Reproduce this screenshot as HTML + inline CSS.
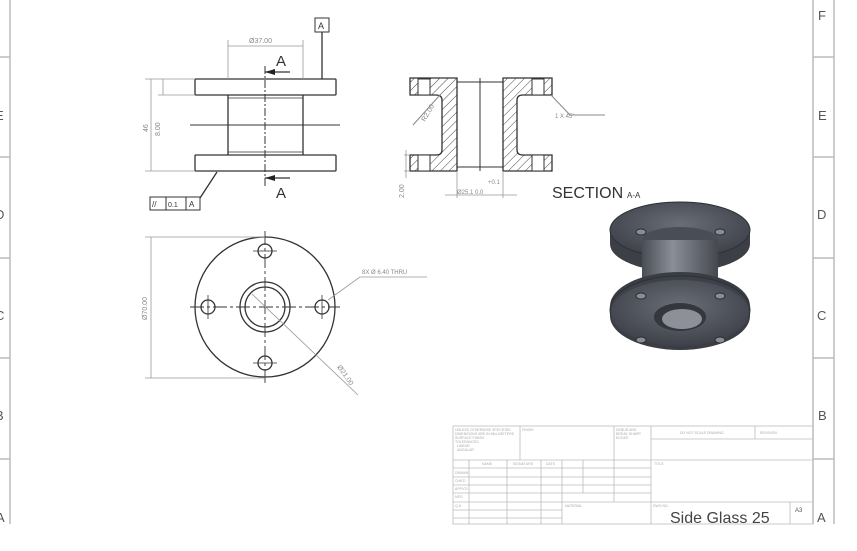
<!DOCTYPE html>
<html><head><meta charset="utf-8"><style>
html,body{margin:0;padding:0;background:#fff;}
svg{display:block;font-family:"Liberation Sans",sans-serif;}
</style></head><body>
<svg width="857" height="551" viewBox="0 0 857 551" xmlns="http://www.w3.org/2000/svg">
<defs>
<pattern id="h" width="6" height="6" patternUnits="userSpaceOnUse" patternTransform="rotate(45)">
<line x1="0" y1="0" x2="0" y2="6" stroke="#444" stroke-width="1"/>
</pattern>
<radialGradient id="g3" cx="50%" cy="40%" r="60%"><stop offset="0" stop-color="#6a6e78"/><stop offset="1" stop-color="#3e4149"/></radialGradient>
<linearGradient id="cyl" x1="0" x2="1"><stop offset="0" stop-color="#4a4d55"/><stop offset="0.4" stop-color="#8a8e97"/><stop offset="1" stop-color="#45484f"/></linearGradient>
</defs>
<rect width="857" height="551" fill="#fff"/>
<g stroke="#bbb" stroke-width="1.5" fill="none">
<line x1="10" y1="0" x2="10" y2="524"/>
<line x1="813" y1="0" x2="813" y2="524"/>
<line x1="834" y1="0" x2="834" y2="524"/>
<line x1="0" y1="459" x2="10" y2="459"/>
<line x1="813" y1="57" x2="834" y2="57"/>
<line x1="813" y1="157" x2="834" y2="157"/>
<line x1="813" y1="258" x2="834" y2="258"/>
<line x1="813" y1="358" x2="834" y2="358"/>
<line x1="813" y1="459" x2="834" y2="459"/>
<line x1="0" y1="57" x2="10" y2="57"/><line x1="0" y1="157" x2="10" y2="157"/><line x1="0" y1="258" x2="10" y2="258"/><line x1="0" y1="358" x2="10" y2="358"/>
</g>
<g fill="#555" font-size="13">
<text x="818" y="20">F</text><text x="818" y="120">E</text><text x="817" y="219">D</text><text x="817" y="320">C</text><text x="818" y="420">B</text><text x="817" y="522">A</text>
<text x="-5" y="120">E</text><text x="-5" y="219">D</text><text x="-5" y="320">C</text><text x="-5" y="420">B</text><text x="-4" y="522">A</text>
</g>
<g stroke="#333" stroke-width="1.3" fill="none">
<rect x="195" y="79" width="141" height="16" rx="1"/>
<rect x="195" y="155" width="141" height="16" rx="1"/>
<line x1="228" y1="95" x2="228" y2="155"/><line x1="303" y1="95" x2="303" y2="155"/>
<line x1="228" y1="98" x2="303" y2="98" stroke-width="0.7"/><line x1="228" y1="152" x2="303" y2="152" stroke-width="0.7"/>
<line x1="190" y1="125" x2="340" y2="125" stroke-width="0.9"/>
<line x1="265" y1="66" x2="265" y2="186" stroke-dasharray="8,2,2,2" stroke-width="1"/>
<line x1="265" y1="72" x2="290" y2="72"/><line x1="265" y1="178" x2="290" y2="178"/>
<line x1="322" y1="32" x2="322" y2="79"/>
<line x1="217" y1="172" x2="200" y2="198"/>
</g>
<polygon points="265,72 275,69 275,75" fill="#222"/><polygon points="265,178 275,175 275,181" fill="#222"/>
<g stroke="#999" stroke-width="0.8" fill="none">
<line x1="228" y1="40" x2="228" y2="79"/><line x1="303" y1="40" x2="303" y2="79"/><line x1="228" y1="46" x2="303" y2="46"/>
<line x1="145" y1="79" x2="195" y2="79"/><line x1="145" y1="171" x2="195" y2="171"/><line x1="151" y1="79" x2="151" y2="171"/>
<line x1="158" y1="95" x2="195" y2="95"/><line x1="163" y1="79" x2="163" y2="95"/>
</g>
<text x="249" y="43" font-size="7" fill="#888">Ø37.00</text>
<text x="276" y="66" font-size="15" fill="#333">A</text>
<text x="276" y="198" font-size="15" fill="#333">A</text>
<rect x="315" y="18" width="14" height="14" fill="#fff" stroke="#333"/><text x="318" y="29" font-size="9" fill="#333">A</text>
<text transform="translate(148,132) rotate(-90)" font-size="7" fill="#888">46</text>
<text transform="translate(160,136) rotate(-90)" font-size="7" fill="#888">8.00</text>
<g stroke="#333" fill="#fff"><rect x="150" y="197" width="16" height="13"/><rect x="166" y="197" width="20" height="13"/><rect x="186" y="197" width="14" height="13"/></g>
<text x="152" y="207" font-size="8" fill="#333">//</text><text x="168" y="207" font-size="7" fill="#333">0.1</text><text x="189" y="207" font-size="8" fill="#333">A</text>
<path d="M410,78 H457 V171 H410 V155 H436 Q442,155 442,150 V100 Q442,95 436,95 H410 Z" fill="url(#h)" stroke="#333" stroke-width="1.3"/>
<path d="M552,78 H503 V171 H552 V155 H523 Q517,155 517,150 V100 Q517,95 523,95 H552 Z" fill="url(#h)" stroke="#333" stroke-width="1.3"/>
<g fill="#fff" stroke="#333" stroke-width="1"><rect x="418" y="79" width="12" height="16"/><rect x="532" y="79" width="12" height="16"/><rect x="418" y="155" width="12" height="16"/><rect x="532" y="155" width="12" height="16"/></g>
<g stroke="#333" stroke-width="1" fill="none">
<line x1="480" y1="78" x2="480" y2="171"/><line x1="457" y1="82" x2="503" y2="82"/><line x1="457" y1="167" x2="503" y2="167"/>
<line x1="551" y1="95" x2="570" y2="115" stroke="#888"/><line x1="570" y1="115" x2="605" y2="115" stroke="#888"/>
<line x1="440" y1="95" x2="413" y2="125" stroke="#888"/>
</g>
<g stroke="#999" stroke-width="0.8"><line x1="457" y1="171" x2="457" y2="198"/><line x1="503" y1="171" x2="503" y2="198"/><line x1="445" y1="195" x2="517" y2="195"/>
<line x1="404" y1="155" x2="410" y2="155"/><line x1="404" y1="171" x2="410" y2="171"/><line x1="406" y1="150" x2="406" y2="178"/></g>
<text x="555" y="118" font-size="6" fill="#888">1 X 45°</text>
<text transform="translate(425,122) rotate(-60)" font-size="7" fill="#888">R2.00</text>
<text transform="translate(404,198) rotate(-90)" font-size="7" fill="#888">2.00</text>
<text x="488" y="184" font-size="6" fill="#888">+0.1</text>
<text x="457" y="194" font-size="6" fill="#888">Ø25.1   0.0</text>
<text x="552" y="198" font-size="16" fill="#333">SECTION</text><text x="627" y="198" font-size="8" fill="#333">A-A</text>
<g stroke="#333" stroke-width="1.3" fill="none">
<circle cx="265" cy="307" r="70"/>
<circle cx="265" cy="307" r="25"/><circle cx="265" cy="307" r="20"/>
<circle cx="265" cy="251" r="7"/><circle cx="208" cy="307" r="7"/><circle cx="322" cy="307" r="7"/><circle cx="265" cy="363" r="7"/>
</g>
<g stroke="#333" stroke-width="0.9" stroke-dasharray="14,3,3,3"><line x1="265" y1="231" x2="265" y2="383"/><line x1="190" y1="307" x2="340" y2="307"/></g>
<g stroke="#333" stroke-width="0.8"><line x1="253" y1="251" x2="277" y2="251"/><line x1="253" y1="363" x2="277" y2="363"/><line x1="208" y1="295" x2="208" y2="319"/><line x1="322" y1="295" x2="322" y2="319"/></g>
<g stroke="#999" stroke-width="0.8" fill="none">
<line x1="145" y1="237" x2="265" y2="237"/><line x1="145" y1="378" x2="265" y2="378"/><line x1="151" y1="237" x2="151" y2="378"/>
<polyline points="328,300 360,277 427,277"/>
<line x1="252" y1="294" x2="358" y2="395"/>
</g>
<text x="362" y="274" font-size="6" fill="#888">8X Ø 6.40 THRU</text>
<text transform="translate(147,320) rotate(-90)" font-size="7" fill="#888">Ø70.00</text>
<text transform="translate(337,367) rotate(55)" font-size="7" fill="#888">Ø21.00</text>
<!-- 3D -->
<g>
<path d="M610,230 A70,28 0 0 1 750,230 V244 A70,28 0 0 1 610,244 Z" fill="#3c3f46"/>
<ellipse cx="680" cy="230" rx="70" ry="28" fill="url(#g3)" stroke="#2e3036"/>
<ellipse cx="680" cy="240" rx="38" ry="13" fill="#4a4d55"/>
<rect x="642" y="240" width="76" height="60" fill="url(#cyl)"/>
<path d="M610,306 A70,34 0 0 1 750,306 V316 A70,34 0 0 1 610,316 Z" fill="#3a3d44"/>
<ellipse cx="680" cy="310" rx="70" ry="34" fill="#3e4148" stroke="#2e3036"/>
<ellipse cx="680" cy="313" rx="69" ry="33" fill="url(#g3)"/>
<ellipse cx="680" cy="317" rx="26" ry="14" fill="#34373d"/>
<ellipse cx="682" cy="319" rx="20" ry="10" fill="#8d9099"/>
<g fill="#8a8d96" stroke="#2a2c31"><ellipse cx="641" cy="232" rx="5" ry="3"/><ellipse cx="720" cy="232" rx="5" ry="3"/><ellipse cx="641" cy="296" rx="5" ry="3"/><ellipse cx="720" cy="296" rx="5" ry="3"/><ellipse cx="641" cy="340" rx="5" ry="3"/><ellipse cx="720" cy="340" rx="5" ry="3"/></g>
</g>
<g stroke="#bbb" stroke-width="0.8" fill="none">
<rect x="453" y="426" width="360" height="98"/>
<line x1="453" y1="460" x2="651" y2="460"/><line x1="651" y1="439" x2="813" y2="439"/><line x1="651" y1="460" x2="813" y2="460"/>
<line x1="453" y1="468" x2="651" y2="468"/><line x1="453" y1="477" x2="651" y2="477"/><line x1="453" y1="485" x2="651" y2="485"/><line x1="453" y1="493" x2="651" y2="493"/><line x1="453" y1="502" x2="813" y2="502"/><line x1="453" y1="510" x2="562" y2="510"/><line x1="453" y1="518" x2="562" y2="518"/>
<line x1="520" y1="426" x2="520" y2="460"/><line x1="614" y1="426" x2="614" y2="502"/><line x1="651" y1="426" x2="651" y2="524"/>
<line x1="469" y1="460" x2="469" y2="524"/><line x1="507" y1="460" x2="507" y2="524"/><line x1="541" y1="460" x2="541" y2="524"/><line x1="562" y1="460" x2="562" y2="524"/><line x1="583" y1="460" x2="583" y2="493"/>
<line x1="755" y1="426" x2="755" y2="439"/><line x1="790" y1="502" x2="790" y2="524"/>
</g>
<g fill="#aaa" font-size="3.5">
<text x="455" y="431">UNLESS OTHERWISE SPECIFIED</text><text x="455" y="435">DIMENSIONS ARE IN MILLIMETERS</text><text x="455" y="439">SURFACE FINISH</text><text x="455" y="443">TOLERANCES</text><text x="457" y="447">LINEAR</text><text x="457" y="451">ANGULAR</text>
<text x="522" y="431">FINISH</text><text x="616" y="431">DEBUR AND</text><text x="616" y="435">BREAK SHARP</text><text x="616" y="439">EDGES</text>
<text x="680" y="434">DO NOT SCALE DRAWING</text><text x="760" y="434">REVISION</text>
<text x="482" y="465">NAME</text><text x="513" y="465">SIGNATURE</text><text x="546" y="465">DATE</text><text x="654" y="465">TITLE:</text>
<text x="455" y="474">DRAWN</text><text x="455" y="482">CHK'D</text><text x="455" y="490">APPV'D</text><text x="455" y="498">MFG</text><text x="455" y="507">Q.A</text><text x="565" y="507">MATERIAL</text><text x="653" y="507">DWG NO.</text>
</g>
<text x="670" y="523" font-size="16" fill="#444">Side Glass 25</text>
<text x="795" y="512" font-size="6" fill="#555">A3</text>
</svg>
</body></html>
